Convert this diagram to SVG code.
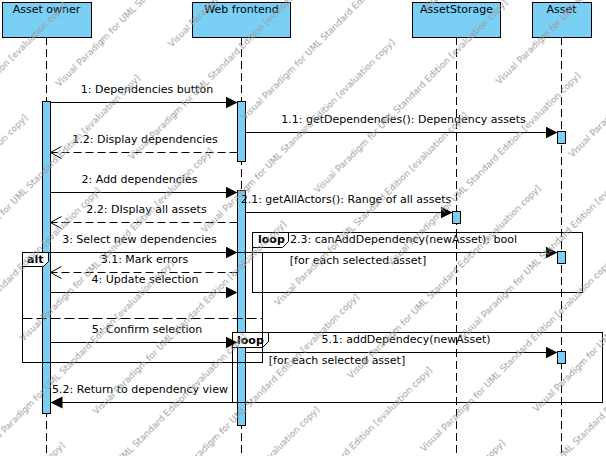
<svg xmlns="http://www.w3.org/2000/svg" width="606" height="456" viewBox="0 0 606 456">
<style>
.hdr{fill:#7ACFF5;stroke:#000;stroke-width:1}
.act{fill:#7ACFF5;stroke:#000;stroke-width:1}
.life{stroke:#000;stroke-width:1;stroke-dasharray:8,4;fill:none}
.t{font-family:"DejaVu Sans",sans-serif;font-size:11px;fill:#000}
.c{text-anchor:middle}
.b{font-weight:bold}
.msg{stroke:#000;stroke-width:1;fill:none}
.ret{stroke:#000;stroke-width:1;fill:none;stroke-dasharray:8,4}
.frame{fill:none;stroke:#000;stroke-width:1}
.tab{fill:#fff;stroke:#000;stroke-width:1}
.wm{font-family:"DejaVu Sans",sans-serif;font-size:9px;fill:#999}
</style>
<defs>
<marker id="fa" markerUnits="userSpaceOnUse" markerWidth="13" markerHeight="13" refX="12" refY="6" orient="auto">
<path d="M0,0 L12,6 L0,12 z" fill="#000"/>
</marker>
<marker id="oa" markerUnits="userSpaceOnUse" markerWidth="13" markerHeight="13" refX="11" refY="6" orient="auto">
<path d="M0,0 L11,6 L0,12" fill="none" stroke="#000" stroke-width="1"/>
</marker>
<pattern id="wmp" patternUnits="userSpaceOnUse" x="0" y="22.3" width="313" height="103.2" patternTransform="rotate(-45)">
<text class="wm" x="88.1" y="30">Visual Paradigm for UML Standard Edition [evaluation copy]</text>
<text class="wm" x="-224.9" y="30">Visual Paradigm for UML Standard Edition [evaluation copy]</text>
<text class="wm" x="293.2" y="81.6">Visual Paradigm for UML Standard Edition [evaluation copy]</text>
<text class="wm" x="-19.8" y="81.6">Visual Paradigm for UML Standard Edition [evaluation copy]</text>
</pattern>
</defs>

<g id="asset-owner">
<line class="life" x1="46.5" y1="37" x2="46.5" y2="456"/>
<rect class="hdr" x="2.5" y="2.5" width="89" height="35"/>
<text class="t c" x="46.5" y="13">Asset owner</text>
<rect class="act" x="42.5" y="101.5" width="8" height="312"/>
</g>
<g id="web-frontend">
<line class="life" x1="241.5" y1="37" x2="241.5" y2="456"/>
<rect class="hdr" x="192.5" y="2.5" width="98" height="35"/>
<text class="t c" x="241.5" y="13">Web frontend</text>
<rect class="act" x="237.5" y="101.5" width="8" height="60"/>
<rect class="act" x="237.5" y="190.5" width="8" height="235"/>
</g>
<g id="asset-storage">
<line class="life" x1="456.5" y1="37" x2="456.5" y2="456"/>
<rect class="hdr" x="412.5" y="2.5" width="88" height="35"/>
<text class="t c" x="456.5" y="13">AssetStorage</text>
<rect class="act" x="452.5" y="211.5" width="8" height="12"/>
</g>
<g id="asset">
<line class="life" x1="561.5" y1="37" x2="561.5" y2="456"/>
<rect class="hdr" x="532.5" y="2.5" width="59" height="35"/>
<text class="t c" x="561.5" y="13">Asset</text>
<rect class="act" x="557.5" y="131.5" width="8" height="12"/>
<rect class="act" x="557.5" y="251.5" width="8" height="12"/>
<rect class="act" x="557.5" y="351.5" width="8" height="12"/>
</g>

<g id="loop1">
<rect class="frame" x="252.5" y="232.5" width="330" height="60"/>
<path class="tab" d="M252.5,232.5 H288.5 V241.5 L282.5,247.5 H252.5 Z"/>
<text class="t b" x="258" y="243">loop</text>
<text class="t c" x="358" y="264">[for each selected asset]</text>
</g>
<g id="loop2">
<rect class="frame" x="232.5" y="332.5" width="370" height="70"/>
<path class="tab" d="M232.5,332.5 H268.5 V341.5 L262.5,347.5 H232.5 Z"/>
<text class="t b" x="237" y="344">loop</text>
<text class="t c" x="337" y="364">[for each selected asset]</text>
</g>
<g id="alt">
<rect class="frame" x="22.5" y="252.5" width="240" height="110"/>
<path class="tab" d="M22.5,252.5 H48.5 V261.5 L43.5,266.5 H22.5 Z"/>
<text class="t b" x="27" y="263">alt</text>
<line x1="22.5" y1="318.5" x2="262.5" y2="318.5" stroke="#000" stroke-width="1" stroke-dasharray="10,4"/>
</g>

<g id="connectors">
<line class="msg" x1="50.5" y1="102.5" x2="237.5" y2="102.5" marker-end="url(#fa)"/>
<line class="msg" x1="245.5" y1="132.5" x2="557.5" y2="132.5" marker-end="url(#fa)"/>
<line class="ret" x1="237.5" y1="152.5" x2="50.5" y2="152.5" marker-end="url(#oa)"/>
<line class="msg" x1="50.5" y1="192.5" x2="237.5" y2="192.5" marker-end="url(#fa)"/>
<line class="msg" x1="245.5" y1="212.5" x2="452.5" y2="212.5" marker-end="url(#fa)"/>
<line class="ret" x1="237.5" y1="222.5" x2="50.5" y2="222.5" marker-end="url(#oa)"/>
<line class="msg" x1="50.5" y1="252.5" x2="237.5" y2="252.5" marker-end="url(#fa)"/>
<line class="msg" x1="245.5" y1="252.5" x2="557.5" y2="252.5" marker-end="url(#fa)"/>
<line class="ret" x1="237.5" y1="272.5" x2="50.5" y2="272.5" marker-end="url(#oa)"/>
<line class="msg" x1="50.5" y1="292.5" x2="237.5" y2="292.5" marker-end="url(#fa)"/>
<line class="msg" x1="50.5" y1="342.5" x2="237.5" y2="342.5" marker-end="url(#fa)"/>
<line class="msg" x1="245.5" y1="352.5" x2="557.5" y2="352.5" marker-end="url(#fa)"/>
<line class="msg" x1="237.5" y1="402.5" x2="50.5" y2="402.5" marker-end="url(#fa)"/>
<text class="t c" x="147" y="93">1: Dependencies button</text>
<text class="t c" x="403.5" y="123">1.1: getDependencies(): Dependency assets</text>
<text class="t c" x="145" y="143">1.2: Display dependencies</text>
<text class="t c" x="139.5" y="183">2: Add dependencies</text>
<text class="t c" x="346" y="203">2.1: getAllActors(): Range of all assets</text>
<text class="t c" x="146.5" y="213">2.2: DIsplay all assets</text>
<text class="t c" x="139.5" y="243">3: Select new dependencies</text>
<text class="t c" x="403.5" y="243">2.3: canAddDependency(newAsset): bool</text>
<text class="t c" x="144.5" y="263">3.1: Mark errors</text>
<text class="t c" x="145" y="283">4: Update selection</text>
<text class="t c" x="147" y="333">5: Confirm selection</text>
<text class="t c" x="406" y="343">5.1: addDependecy(newAsset)</text>
<text class="t c" x="140" y="393">5.2: Return to dependency view</text>
</g>

<g id="watermark">
<rect x="0" y="0" width="606" height="456" fill="url(#wmp)"/>
</g>
</svg>
